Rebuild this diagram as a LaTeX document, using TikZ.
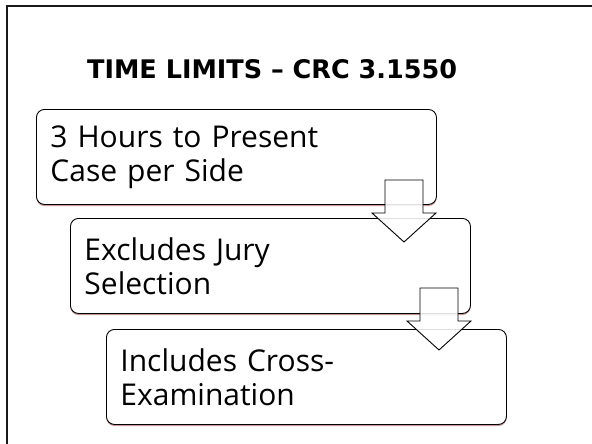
\documentclass[tikz,border=0pt]{standalone}
\usepackage{fontspec}
\setmainfont{Open Sans}
\newfontfamily\headfont{DejaVu Sans}
\usetikzlibrary{shadows}
\begin{document}
\begin{tikzpicture}[x=1pt,y=-1pt,
  stepbox/.style={draw=black, line width=0.9pt, rounded corners=8pt, fill=white,
    minimum width=400pt, minimum height=95pt, anchor=north west,
    inner ysep=0pt, inner xsep=14pt, text width=372pt, align=left,
    font=\fontsize{30}{34}\selectfont,
    drop shadow={shadow xshift=0pt, shadow yshift=-1.6pt, fill=red!45!black, opacity=0.4}},
  blockarrow/.style={draw=black, line width=0.9pt, fill=white, fill opacity=0.88},
  downarrow/.pic={
    \path[blockarrow] (-19,0) -- (19,0) -- (19,33) -- (32,33) -- (0,62)
      -- (-32,33) -- (-19,33) -- cycle;
  }]
\useasboundingbox (0,0) rectangle (592,444);
% slide frame (only top and left edges fall inside the page)
\draw[line width=2.2pt, black!90] (7,444) -- (7,6) -- (592,6);
% heading, set wide
\node[anchor=base west, inner sep=0pt, font=\headfont\bfseries\fontsize{26}{30}\selectfont]
  (title) at (87,79) {\resizebox{370pt}{19pt}{TIME LIMITS \textendash{} CRC 3.1550}};
% the three steps
\node[stepbox] (s1) at (36,109) {3 Hours to Present\\Case per Side};
\node[stepbox] (s2) at (70,218) {Excludes Jury\\Selection};
\node[stepbox] (s3) at (106,329) {Includes Cross-\\Examination};
% block arrows between steps
\pic at (404,180) {downarrow};
\pic at (439,288) {downarrow};
\end{tikzpicture}
\end{document}
